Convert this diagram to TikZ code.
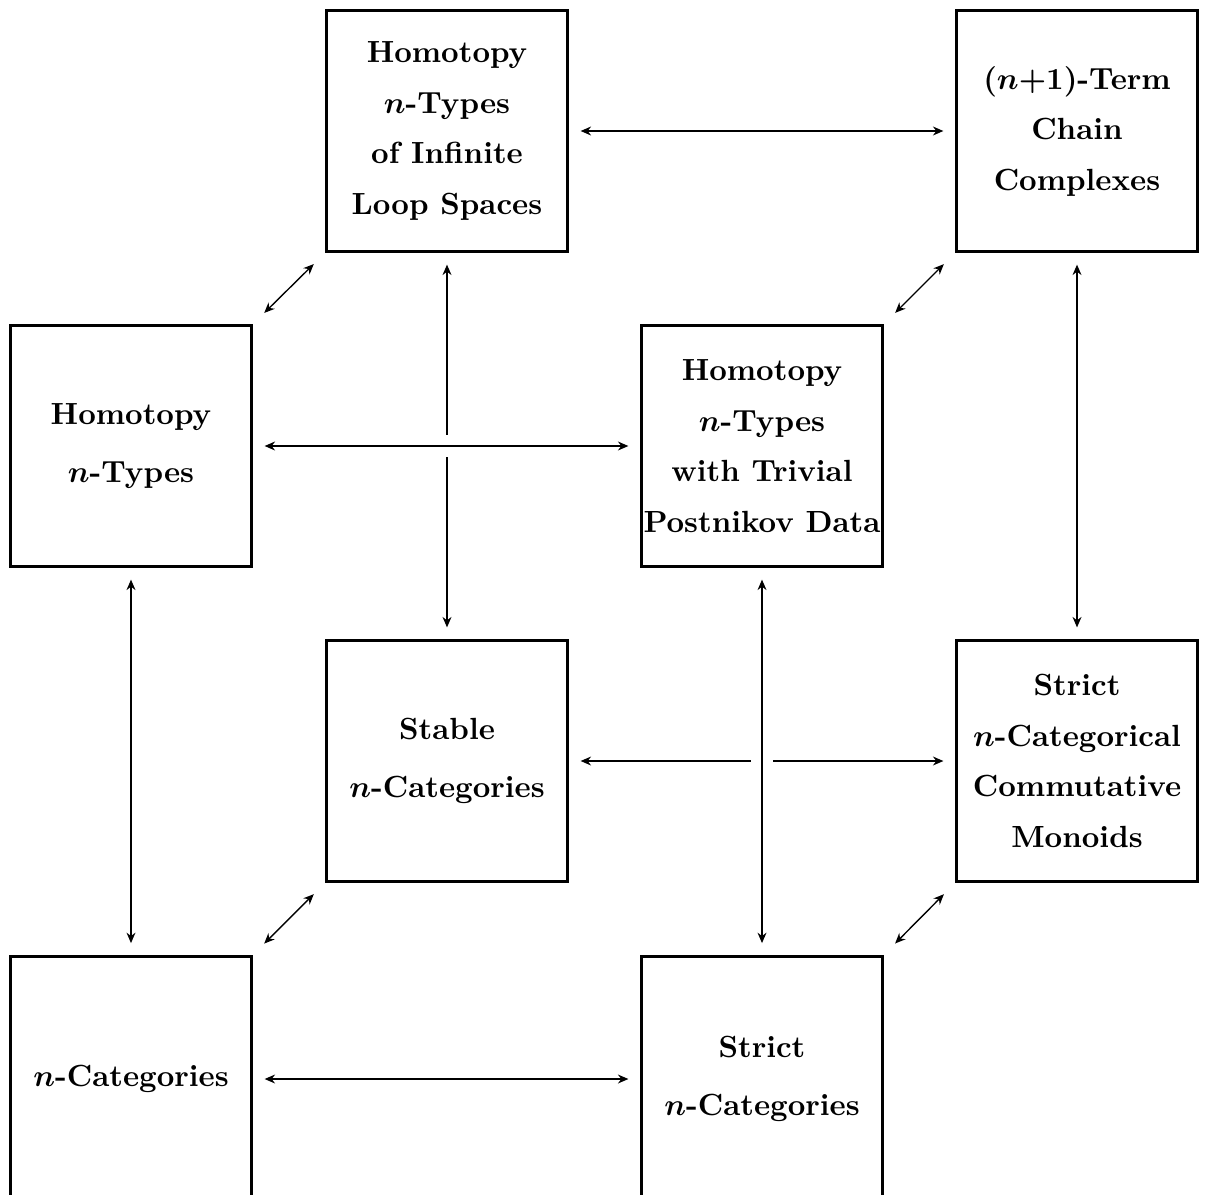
\documentclass[tikz,border=0pt]{standalone}
\usetikzlibrary{arrows.meta}
\begin{document}
\begin{tikzpicture}[
	x = 0.3267pt, y = -0.3267pt,
	box/.style = {draw, line width = 1pt, minimum width = 78.5pt, minimum height = 78.5pt,
		inner sep = 0pt, align = center, font = {\fontsize{10pt}{16.5pt}\selectfont\bfseries\boldmath}},
	loose/.style = {font = {\fontsize{10pt}{19pt}\selectfont\bfseries\boldmath}},
	tall/.style = {minimum height = 80pt},
	pair/.style = {{Stealth[length=3.4pt, width=2.9pt]}-{Stealth[length=3.4pt, width=2.9pt]},
		line width = 0.8pt, shorten < = 3.9pt, shorten > = 3.9pt},
	slant/.style = {pair, line width = 0.45pt, shorten < = 5.3pt, shorten > = 5.3pt},
	over/.style = {preaction = {draw = white, line width = 7.5pt, -}}]
	\useasboundingbox (0,0) rectangle (1207,1194);
	\clip (0,0) rectangle (1207,1194);
	
	% Boxes
	\node[box] (loop) at (447,131) {Homotopy\\$n$-Types\\of Infinite\\Loop Spaces};
	\node[box] (chain) at (1077,131) {$(n{+}1)$-Term\\Chain\\Complexes};
	\node[box, loose] (htypes) at (131,446) {Homotopy\\$n$-Types};
	\node[box] (postn) at (762,446) {Homotopy\\$n$-Types\\with Trivial\\Postnikov Data};
	\node[box, loose] (stable) at (447,761) {Stable\\$n$-Categories};
	\node[box] (monoids) at (1077,761) {Strict\\$n$-Categorical\\Commutative\\Monoids};
	\node[box, tall] (ncat) at (131,1079) {$n$-Categories};
	\node[box, tall, loose] (strict) at (762,1079) {Strict\\$n$-Categories};
	
	% Arrows
	\draw[pair] (loop) -- (chain);
	\draw[slant] (htypes.north east) -- (loop.south west);
	\draw[slant] (postn.north east) -- (chain.south west);
	\draw[pair] (loop) -- (stable);
	\draw[pair, over] (htypes) -- (postn);
	\draw[pair] (chain) -- (monoids);
	\draw[pair] (htypes) -- (ncat);
	\draw[pair] (stable) -- (monoids);
	\draw[pair, over] (postn) -- (strict);
	\draw[slant] (ncat.north east) -- (stable.south west);
	\draw[slant] (strict.north east) -- (monoids.south west);
	\draw[pair] (ncat) -- (strict);
\end{tikzpicture}
\end{document}
